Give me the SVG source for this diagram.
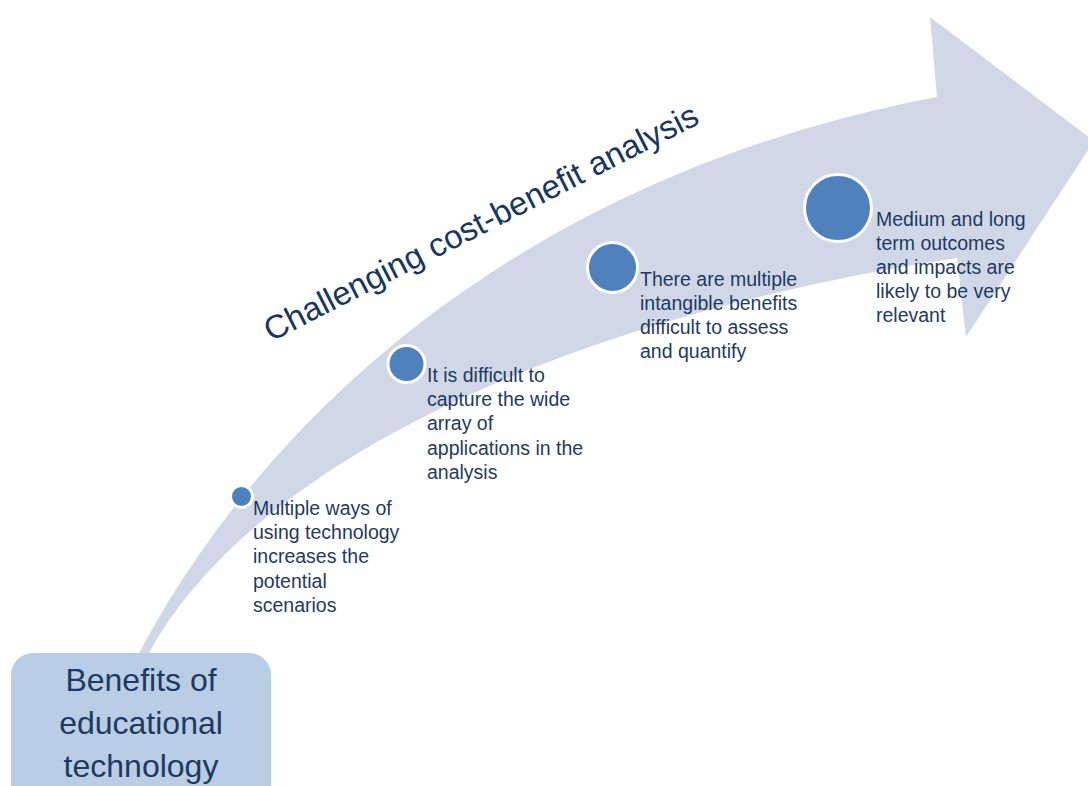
<svg xmlns="http://www.w3.org/2000/svg" width="1088" height="786" viewBox="0 0 1088 786">
<style>
.lbl{font-family:"Liberation Sans",Arial,sans-serif;font-size:19.5px;fill:#1f3a5f}
.dot{fill:#4f81bd;stroke:#ffffff;stroke-width:3}
.title{font-family:"Liberation Sans",Arial,sans-serif;font-size:33px;fill:#17375e}
.box{font-family:"Liberation Sans",Arial,sans-serif;font-size:32px;fill:#1f3a5f;text-anchor:middle}
</style>
<rect x="0" y="0" width="1088" height="786" fill="#ffffff"/>
<g id="arrow">
<path d="M137,657 C250,440 500,180 937,97 L930,17 L1094,141 L966,337 L957,258 C550,320 245,470 147,657 Z" fill="#d0d8e8"/>
</g>
<g id="title">
<text class="title" transform="translate(271,342) rotate(-27)">Challenging cost-benefit analysis</text>
</g>
<g id="connectors"></g>
<g id="node-benefits">
<rect x="11" y="653" width="260" height="160" rx="22" ry="22" fill="#b9cde5"/>
<text class="box" x="141" y="691">Benefits of</text>
<text class="box" x="141" y="734">educational</text>
<text class="box" x="141" y="777">technology</text>
</g>
<g id="node-1">
<circle class="dot" cx="241.5" cy="496.5" r="11"/>
<text class="lbl"><tspan x="253" y="515">Multiple ways of</tspan><tspan x="253" y="539">using technology</tspan><tspan x="253" y="563">increases the</tspan><tspan x="253" y="588">potential</tspan><tspan x="253" y="612">scenarios</tspan></text>
</g>
<g id="node-2">
<circle class="dot" cx="406.5" cy="364" r="18.5"/>
<text class="lbl"><tspan x="427" y="382">It is difficult to</tspan><tspan x="427" y="406">capture the wide</tspan><tspan x="427" y="430">array of</tspan><tspan x="427" y="455">applications in the</tspan><tspan x="427" y="479">analysis</tspan></text>
</g>
<g id="node-3">
<circle class="dot" cx="612.5" cy="267.5" r="25"/>
<text class="lbl"><tspan x="640" y="286">There are multiple</tspan><tspan x="640" y="310">intangible benefits</tspan><tspan x="640" y="334">difficult to assess</tspan><tspan x="640" y="358">and quantify</tspan></text>
</g>
<g id="node-4">
<circle class="dot" cx="838" cy="208" r="33.5"/>
<text class="lbl"><tspan x="876" y="226">Medium and long</tspan><tspan x="876" y="250">term outcomes</tspan><tspan x="876" y="274">and impacts are</tspan><tspan x="876" y="298">likely to be very</tspan><tspan x="876" y="322">relevant</tspan></text>
</g>
</svg>
